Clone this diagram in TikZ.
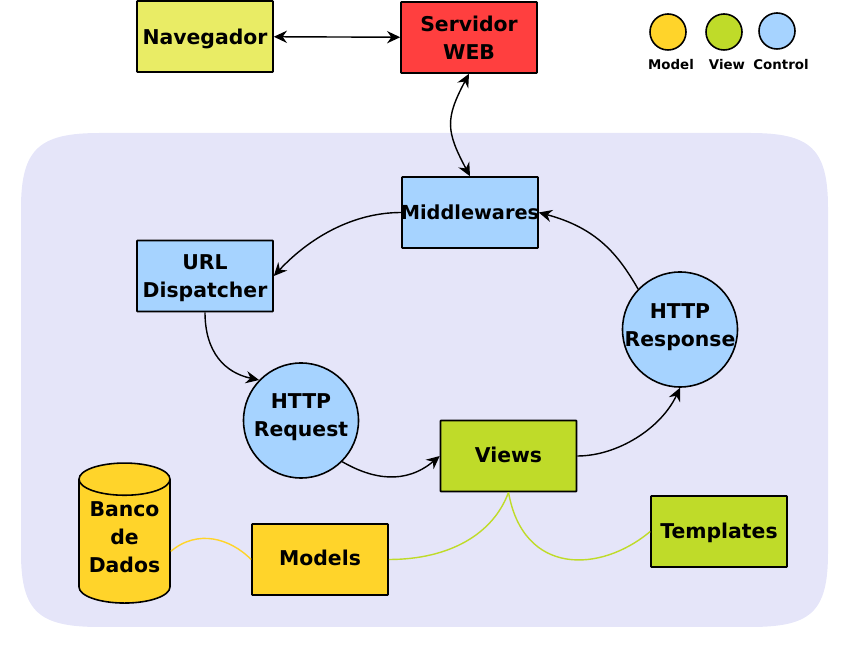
\documentclass[tikz,border=0pt]{standalone}
\usepackage{fontspec}
\setmainfont{DejaVu Sans}
\usetikzlibrary{shapes.geometric,arrows.meta}
\definecolor{modelcolor}{HTML}{FFD42A}
\definecolor{viewcolor}{HTML}{BFDB29}
\definecolor{controlcolor}{HTML}{A6D3FF}
\definecolor{navcolor}{HTML}{E9EC65}
\definecolor{webcolor}{HTML}{FF3F3F}
\definecolor{backcolor}{HTML}{E5E5F9}
% texte sans encombrement, pour garder la taille des formes
\newcommand{\serre}[2]{\smash{\raisebox{\dimexpr #1-2.9pt\relax}{\makebox[0pt]{\begin{tabular}{@{}c@{}}#2\end{tabular}}}}}
\tikzset{
    box/.style={draw,line width=0.9pt,rounded corners=0.3pt,minimum width=2.72cm,minimum height=1.42cm,inner sep=0pt,align=center,font=\fontsize{11.6}{16}\selectfont\bfseries},
    rond/.style={draw,line width=0.9pt,circle,minimum size=2.3cm,inner sep=0pt,align=center,fill=controlcolor,font=\fontsize{11.6}{16}\selectfont\bfseries},
    puce/.style={draw,line width=0.9pt,circle,minimum size=0.72cm,inner sep=0pt},
    legende/.style={inner sep=0pt,font=\fontsize{7.6}{9}\selectfont\bfseries},
    lien/.style={line width=0.8pt,-{Stealth[length=7.5pt,width=7pt,inset=2.5pt]}},
    liendouble/.style={line width=0.8pt,{Stealth[length=7.5pt,width=7pt,inset=2.5pt]}-{Stealth[length=7.5pt,width=7pt,inset=2.5pt]}},
    trait/.style={line width=0.8pt}
}
\begin{document}
\begin{tikzpicture}
        \useasboundingbox (0,0) rectangle (17,12.96);

        % zone de l'application
        \fill[backcolor] (2,10.30) -- (15,10.30)
        .. controls (16.2,10.30) and (16.56,10.0) .. (16.56,8.8)
        -- (16.56,1.9)
        .. controls (16.56,0.7) and (16.2,0.42) .. (15,0.42)
        -- (2,0.42)
        .. controls (0.8,0.42) and (0.42,0.7) .. (0.42,1.9)
        -- (0.42,8.8)
        .. controls (0.42,10.0) and (0.8,10.30) .. (2,10.30) -- cycle;

        % legende
        \node[puce,fill=modelcolor] (ModelPuce) at (13.36,12.32) {};
        \node[puce,fill=viewcolor] (ViewPuce) at (14.48,12.32) {};
        \node[puce,fill=controlcolor] (ControlPuce) at (15.54,12.34) {};
        \node[legende] (ModelTexte) at (13.42,11.66) {Model};
        \node[legende] (ViewTexte) at (14.54,11.66) {View};
        \node[legende] (ControlTexte) at (15.62,11.66) {Control};

        % dessin des composants
        \node[box,fill=navcolor] (Navegador) at (4.10,12.23) {\serre{-1.6pt}{Navegador}};
        \node[box,fill=webcolor] (Servidor) at (9.38,12.21) {\serre{-1.7pt}{Servidor\\WEB}};
        \node[box,fill=controlcolor] (Middlewares) at (9.40,8.71) {\serre{-1.1pt}{\fontsize{11}{16}\selectfont Middlewares}};
        \node[box,fill=controlcolor] (URL) at (4.10,7.44) {\serre{-1.1pt}{URL\\Dispatcher}};
        \node[rond] (Request) at (6.02,4.55) {\serre{1.8pt}{HTTP\\Request}};
        \node[rond] (Response) at (13.60,6.37) {\serre{1.4pt}{HTTP\\Response}};
        \node[box,fill=viewcolor] (Views) at (10.17,3.84) {\serre{-0.5pt}{Views}};
        \node[box,fill=viewcolor] (Templates) at (14.38,2.33) {\serre{-1pt}{Templates}};
        \node[box,fill=modelcolor] (Models) at (6.40,1.77) {\serre{-0.6pt}{Models}};
        \node[draw,line width=0.9pt,fill=modelcolor,cylinder,shape border rotate=90,aspect=0.46,minimum width=1.82cm,minimum height=2.8cm,inner sep=0pt,align=center,font=\fontsize{11.6}{16}\selectfont\bfseries] (Banco) at (2.49,2.13) {\makebox[1.4cm]{\serre{1.4pt}{Banco\\de\\Dados}}};

        % liens du cycle
        \draw[liendouble] (Navegador) -- (Servidor);

        \draw[liendouble] (Servidor.south)
        .. controls +(-0.48,-0.9) and +(-0.48,0.9) ..
        (Middlewares.north);

        \draw[lien] (Middlewares.west)
        .. controls +(left:1) and +(47:1) ..
        (URL.east);

        \draw[lien] (URL.south)
        .. controls +(down:0.8) and +(168:0.7) ..
        (Request.136);

        \draw[lien] (Request.-45)
        .. controls +(-30:0.7) and +(-140:0.9) ..
        (Views.west);

        \draw[lien] (Views.east)
        .. controls +(right:0.8) and +(-115:0.9) ..
        (Response.south);

        \draw[lien] (Response.136)
        .. controls +(120:0.8) and +(-15:1.2) ..
        (Middlewares.east);

        % liens du modele et des gabarits
        \draw[trait,modelcolor] (Banco.-12)
        .. controls +(40:0.7) and +(135:0.6) ..
        (Models.west);

        \draw[trait,viewcolor] (Models.east)
        .. controls +(right:1.2) and +(-110:0.9) ..
        (Views.south);

        \draw[trait,viewcolor] (Views.south)
        .. controls +(-80:1.7) and +(-140:1.3) ..
        (Templates.west);
    \end{tikzpicture}
\end{document}
